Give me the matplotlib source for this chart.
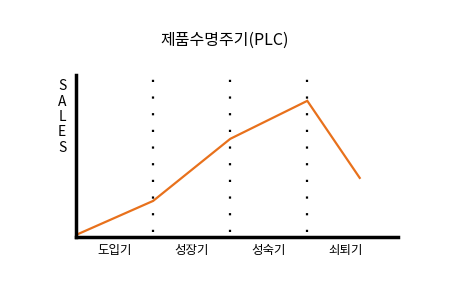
import matplotlib.pyplot as plt

plt.rcParams['font.family'] = ['Noto Sans CJK KR', 'DejaVu Sans']

# Product life cycle curve (stage position, relative sales)
stage_pos = [0, 1, 2, 3, 3.68]
sales = [2, 36, 98, 136, 59]
stage_labels = ['도입기', '성장기', '성숙기', '쇠퇴기']
boundaries = [1, 2, 3]

fig = plt.figure(figsize=(4.5, 2.9), dpi=100)
ax = fig.add_axes([0.169, 0.183, 0.716, 0.559])

ax.plot(stage_pos, sales, color='#E8711C', lw=1.6, solid_joinstyle='miter')
for b in boundaries:
    ax.plot([b, b], [5, 162], color='black', lw=1.6, linestyle=(0, (1, 6.5)))

ax.set_xlim(0, 4.18)
ax.set_ylim(0, 162)
for side in ['top', 'right']:
    ax.spines[side].set_visible(False)
for side in ['left', 'bottom']:
    ax.spines[side].set_linewidth(2.5)
ax.set_yticks([])
ax.set_xticks([0.5, 1.5, 2.5, 3.5])
ax.set_xticklabels(stage_labels, fontsize=9, fontweight='medium')
ax.tick_params(axis='x', length=0, pad=5)

fig.text(0.5, 0.86, '제품수명주기(PLC)', ha='center', va='center',
         fontsize=11.5, fontweight='medium')
for i, ch in enumerate('SALES'):
    fig.text(62 / 450, 1 - (86 + i * 15.5) / 290, ch, ha='center', va='center',
             fontsize=10, fontweight='medium')

fig.savefig('out.png', dpi=100)
